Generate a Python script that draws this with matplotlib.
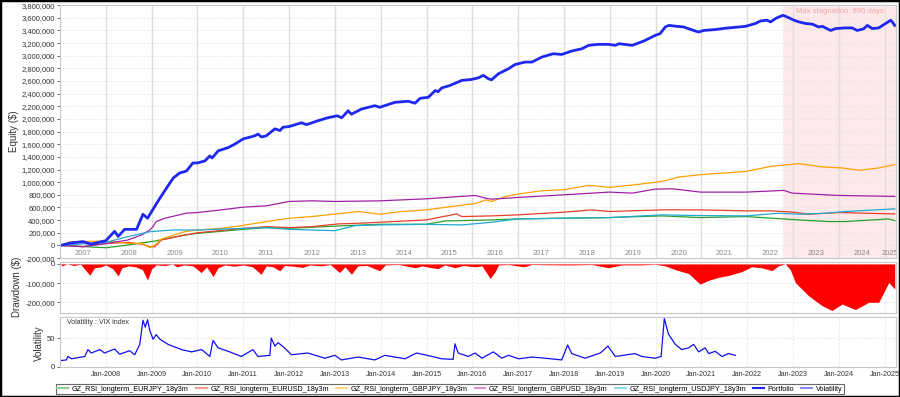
import numpy as np
import matplotlib
matplotlib.use("Agg")
import matplotlib.pyplot as plt
from matplotlib.lines import Line2D
from matplotlib.patches import Rectangle
from matplotlib.ticker import FuncFormatter

plt.rcParams["font.family"] = ["Liberation Sans", "DejaVu Sans"]

# ---- data (x = decimal year) ----
port_x = [2007.01, 2007.25, 2007.50, 2007.68, 2007.85, 2008.0, 2008.19, 2008.27, 2008.41, 2008.67,
          2008.81, 2008.91, 2009.03, 2009.18, 2009.28, 2009.47, 2009.61, 2009.76, 2009.90, 2010.0,
          2010.16, 2010.27, 2010.32, 2010.45, 2010.67, 2010.81, 2011.0, 2011.25, 2011.32, 2011.40,
          2011.50, 2011.69, 2011.80, 2011.87, 2012.0, 2012.27, 2012.38, 2012.63, 2012.85, 2013.05,
          2013.15, 2013.29, 2013.36, 2013.58, 2013.87, 2013.98, 2014.31, 2014.60, 2014.75, 2014.86,
          2015.04, 2015.19, 2015.25, 2015.33, 2015.51, 2015.77, 2015.98, 2016.13, 2016.24, 2016.35,
          2016.42, 2016.57, 2016.79, 2016.93, 2017.15, 2017.30, 2017.52, 2017.77, 2017.95, 2018.17,
          2018.39, 2018.54, 2018.75, 2018.97, 2019.12, 2019.20, 2019.49, 2019.74, 2020.0, 2020.10,
          2020.21, 2020.29, 2020.47, 2020.61, 2020.83, 2020.94, 2021.05, 2021.31, 2021.52, 2021.82,
          2021.96, 2022.18, 2022.29, 2022.43, 2022.51, 2022.62, 2022.78, 2022.91, 2023.02, 2023.13,
          2023.27, 2023.42, 2023.56, 2023.64, 2023.82, 2023.93, 2024.14, 2024.29, 2024.40, 2024.54,
          2024.62, 2024.73, 2024.87, 2025.02, 2025.13, 2025.16, 2025.22]
port_y = [0, 40000, 60000, 20000, 50000, 75000, 222000, 143000, 254000, 254000,
          493000, 430000, 572000, 747000, 858000, 1065000, 1145000, 1177000, 1304000, 1304000,
          1336000, 1415000, 1383000, 1495000, 1547000, 1600000, 1685000, 1733000, 1760000, 1715000,
          1733000, 1844000, 1817000, 1870000, 1880000, 1940000, 1910000, 1972000, 2020000, 2050000,
          2020000, 2130000, 2075000, 2157000, 2210000, 2185000, 2263000, 2280000, 2250000, 2327000,
          2343000, 2450000, 2430000, 2490000, 2530000, 2610000, 2625000, 2650000, 2690000, 2636000,
          2620000, 2715000, 2795000, 2860000, 2900000, 2900000, 2980000, 3032000, 3020000, 3075000,
          3110000, 3165000, 3180000, 3180000, 3165000, 3190000, 3165000, 3232000, 3325000, 3350000,
          3455000, 3480000, 3465000, 3455000, 3400000, 3375000, 3400000, 3415000, 3435000, 3455000,
          3465000, 3510000, 3550000, 3562000, 3535000, 3590000, 3640000, 3600000, 3562000, 3535000,
          3510000, 3500000, 3455000, 3465000, 3400000, 3430000, 3440000, 3440000, 3400000, 3425000,
          3480000, 3430000, 3440000, 3510000, 3560000, 3540000, 3480000]

gbpusd_x = [2007.01, 2007.50, 2008.0, 2008.48, 2008.78, 2008.96, 2009.03, 2009.10, 2009.29, 2009.76,
            2010.0, 2010.52, 2011.0, 2011.51, 2012.0, 2012.49, 2013.0, 2013.98, 2014.99, 2016.06,
            2016.28, 2016.42, 2016.99, 2017.99, 2018.99, 2019.49, 2020.0, 2020.36, 2020.98, 2021.98,
            2022.80, 2022.98, 2023.98, 2025.22]
gbpusd_y = [0, -20000, 30000, 85000, 165000, 244000, 297000, 377000, 430000, 510000,
            520000, 562000, 605000, 626000, 695000, 705000, 695000, 705000, 737000, 790000,
            748000, 732000, 758000, 800000, 843000, 827000, 891000, 896000, 843000, 843000,
            870000, 827000, 790000, 775000]

gbpjpy_x = [2007.01, 2007.21, 2008.0, 2008.48, 2008.78, 2008.96, 2009.07, 2009.21, 2009.72, 2010.0,
            2010.52, 2010.96, 2011.51, 2012.0, 2012.49, 2013.03, 2013.51, 2013.98, 2014.46, 2014.99,
            2015.55, 2016.10, 2016.30, 2016.42, 2016.72, 2016.99, 2017.52, 2017.99, 2018.54, 2018.99,
            2019.56, 2020.14, 2020.51, 2020.98, 2021.52, 2021.98, 2022.54, 2022.91, 2023.13, 2023.64,
            2024.07, 2024.44, 2024.87, 2025.22]
gbpjpy_y = [0, 58000, 69000, 32000, 32000, -32000, 5000, 100000, 217000, 244000,
            270000, 313000, 377000, 430000, 456000, 498000, 536000, 493000, 536000, 562000,
            615000, 668000, 721000, 695000, 774000, 812000, 865000, 880000, 950000, 918000,
            960000, 1013000, 1082000, 1119000, 1146000, 1172000, 1252000, 1278000, 1294000, 1241000,
            1225000, 1188000, 1225000, 1278000]

eurusd_x = [2007.01, 2007.50, 2008.0, 2008.48, 2008.78, 2008.96, 2009.07, 2009.21, 2009.72, 2010.0,
            2011.0, 2011.51, 2012.0, 2012.49, 2013.07, 2013.51, 2013.98, 2014.99, 2015.66, 2015.77,
            2016.42, 2016.99, 2017.99, 2018.61, 2018.99, 2020.14, 2020.98, 2021.98, 2022.54, 2023.02,
            2023.34, 2024.0, 2025.22]
eurusd_y = [0, -20000, 30000, 48000, 21000, -21000, -21000, 85000, 164000, 200000,
            270000, 297000, 281000, 297000, 340000, 350000, 366000, 403000, 498000, 456000,
            467000, 483000, 525000, 562000, 536000, 562000, 562000, 546000, 546000, 525000,
            493000, 520000, 498000]

eurjpy_x = [2007.01, 2008.0, 2008.48, 2009.07, 2009.72, 2010.0, 2011.0, 2011.51, 2012.0, 2013.07,
            2013.98, 2014.99, 2015.41, 2016.42, 2016.99, 2017.99, 2018.99, 2020.14, 2020.98, 2021.98,
            2022.54, 2023.13, 2023.78, 2024.14, 2025.09, 2025.22]
eurjpy_y = [0, -37000, 5000, 69000, 164000, 190000, 254000, 281000, 270000, 307000,
            334000, 334000, 387000, 403000, 419000, 430000, 440000, 467000, 440000, 456000,
            430000, 403000, 377000, 377000, 419000, 392000]

usdjpy_x = [2007.01, 2008.0, 2008.48, 2008.96, 2009.47, 2010.0, 2011.0, 2011.51, 2012.0, 2013.0,
            2013.44, 2013.98, 2014.99, 2015.77, 2016.42, 2016.99, 2017.99, 2018.99, 2020.14, 2020.98,
            2021.98, 2022.69, 2023.13, 2023.71, 2024.14, 2025.09, 2025.22]
usdjpy_y = [0, 48000, 138000, 217000, 244000, 244000, 270000, 281000, 254000, 233000,
            313000, 324000, 334000, 324000, 366000, 419000, 430000, 440000, 483000, 472000,
            467000, 509000, 493000, 509000, 536000, 573000, 578000]

dd_x = [2007.0, 2007.05, 2007.15, 2007.30, 2007.45, 2007.65, 2007.75, 2007.90, 2008.0, 2008.15,
        2008.27, 2008.35, 2008.50, 2008.65, 2008.80, 2008.91, 2009.0, 2009.10, 2009.30, 2009.45,
        2009.55, 2009.70, 2009.90, 2010.08, 2010.20, 2010.34, 2010.45, 2010.60, 2010.80, 2011.0,
        2011.20, 2011.39, 2011.50, 2011.65, 2011.80, 2011.90, 2012.10, 2012.30, 2012.45, 2012.70,
        2012.90, 2013.10, 2013.22, 2013.36, 2013.50, 2013.70, 2013.98, 2014.10, 2014.40, 2014.75,
        2014.90, 2015.0, 2015.25, 2015.40, 2015.62, 2015.80, 2016.06, 2016.21, 2016.39, 2016.50,
        2016.57, 2016.79, 2017.12, 2017.30, 2017.88, 2018.24, 2018.61, 2018.97, 2019.12, 2019.26,
        2019.70, 2019.99, 2020.21, 2020.43, 2020.72, 2020.97, 2021.16, 2021.37, 2021.59, 2021.88,
        2022.10, 2022.32, 2022.54, 2022.68, 2022.83, 2022.94, 2023.05, 2023.34, 2023.63, 2023.85,
        2024.07, 2024.36, 2024.65, 2024.87, 2025.09, 2025.22]
dd_y = [0, -10000, 0, -8000, -2000, -59000, -20000, -15000, -5000, -25000,
        -63000, -20000, -10000, -15000, -30000, -84000, -25000, -5000, -8000, 0,
        -15000, -5000, -10000, -45000, -15000, -66000, -20000, -5000, -12000, -5000,
        -15000, -54000, -10000, -15000, -36000, -8000, -12000, -18000, -5000, -10000,
        -3000, -45000, -15000, -54000, -10000, -8000, -36000, -5000, -3000, -20000,
        -10000, -15000, -25000, -5000, -20000, -8000, -15000, -10000, -76000, -40000,
        -5000, -3000, -15000, -3000, -5000, -5000, -3000, -20000, -12000, -5000,
        -5000, -2000, -10000, -30000, -50000, -105000, -85000, -70000, -60000, -40000,
        -15000, -20000, -35000, -10000, 0, -30000, -97000, -166000, -217000, -243000,
        -209000, -238000, -200000, -200000, -97000, -131000]

vix_x = [2007.03, 2007.14, 2007.17, 2007.25, 2007.54, 2007.61, 2007.68, 2007.87, 2007.97, 2008.19,
         2008.30, 2008.52, 2008.63, 2008.74, 2008.81, 2008.86, 2008.91, 2008.96, 2009.03, 2009.10,
         2009.18, 2009.36, 2009.65, 2009.87, 2010.09, 2010.27, 2010.34, 2010.45, 2010.67, 2010.96,
         2011.21, 2011.32, 2011.58, 2011.61, 2011.69, 2011.76, 2011.90, 2012.05, 2012.41, 2012.78,
         2013.00, 2013.14, 2013.51, 2013.87, 2014.09, 2014.53, 2014.78, 2014.96, 2015.33, 2015.58,
         2015.62, 2015.69, 2015.91, 2016.06, 2016.21, 2016.46, 2016.64, 2016.79, 2017.01, 2017.30,
         2017.59, 2017.95, 2018.08, 2018.17, 2018.46, 2018.79, 2018.96, 2019.12, 2019.55, 2019.70,
         2019.99, 2020.12, 2020.19, 2020.28, 2020.43, 2020.57, 2020.72, 2020.83, 2020.94, 2021.08,
         2021.16, 2021.30, 2021.45, 2021.59, 2021.74]
vix_y = [11, 12, 18, 14, 18, 30, 24, 30, 24, 31,
         22, 28, 21, 39, 81, 69, 82, 63, 48, 56,
         48, 39, 30, 26, 30, 18, 46, 33, 27, 18,
         30, 18, 20, 50, 36, 42, 33, 21, 24, 15,
         20, 12, 17, 12, 20, 14, 24, 21, 14, 13,
         40, 24, 18, 24, 15, 26, 15, 20, 14, 17,
         15, 12, 38, 23, 15, 24, 36, 18, 23, 18,
         15, 18, 84, 57, 39, 30, 33, 39, 26, 33,
         23, 27, 18, 23, 20]

names = ["GZ_RSI_longterm_EURJPY_18y3m", "GZ_RSI_longterm_EURUSD_18y3m",
         "GZ_RSI_longterm_GBPJPY_18y3m", "GZ_RSI_longterm_GBPUSD_18y3m",
         "GZ_RSI_longterm_USDJPY_18y3m", "Portfolio", "Volatility"]
years = list(range(2007, 2026))
stag_start = 2022.78
stag_days = 890

c_port = "#1e28ee"
c_eurjpy = "#2ca02c"
c_eurusd = "#e8402a"
c_gbpjpy = "#ffa000"
c_gbpusd = "#a020a8"
c_usdjpy = "#22aad4"

x0, x1 = 2007.0, 2025.25

fig = plt.figure(figsize=(9, 3.97), dpi=100)
ax1 = fig.add_axes([0.0667, 0.350, 0.929, 0.637])
ax2 = fig.add_axes([0.0667, 0.212, 0.929, 0.128])
ax3 = fig.add_axes([0.0667, 0.076, 0.929, 0.126])

for ax in (ax1, ax2, ax3):
    ax.set_xlim(x0, x1)
    ax.set_xticks(years[1:])
    for s in ax.spines.values():
        s.set_color("#c8c8c8")
    ax.tick_params(labelsize=5.5, colors="#333333", length=2, width=0.5, pad=1.5)
    ax.tick_params(axis="x", length=0)

# equity
ax1.axvspan(stag_start, x1, color="#fde9e9", zorder=0)
ax1.grid(axis="x", color="#dedede", lw=1.0, ls="-")
ax1.grid(axis="y", color="#e2e2e2", lw=0.6, ls=(0, (2, 2)))
ax1.set_axisbelow(True)
ax1.plot(eurjpy_x, eurjpy_y, color=c_eurjpy, lw=0.9)
ax1.plot(eurusd_x, eurusd_y, color=c_eurusd, lw=0.9)
ax1.plot(gbpjpy_x, gbpjpy_y, color=c_gbpjpy, lw=0.9)
ax1.plot(gbpusd_x, gbpusd_y, color=c_gbpusd, lw=0.9)
ax1.plot(usdjpy_x, usdjpy_y, color=c_usdjpy, lw=0.9)
ax1.plot(port_x, port_y, color=c_port, lw=2.0)
ax1.set_ylim(-200000, 3800000)
ax1.set_yticks(np.arange(-200000, 3800001, 200000))
ax1.yaxis.set_major_formatter(FuncFormatter(lambda v, p: f"{int(v):,}"))
ax1.set_xticklabels([])
for y in years:
    xc = (y + min(y + 1, x1)) / 2
    ax1.text(xc, -130000, str(y), ha="center", va="center", fontsize=5.5, color="#8a8a8a", clip_on=True)
ax1.text((stag_start + x1) / 2, 3700000, f"Max stagnation: {stag_days} days",
         ha="center", va="center", fontsize=5.5, color="#f2a5a5")

# drawdown
ax2.fill_between(dd_x, dd_y, 0, color="#ff0000", lw=0, zorder=2)
ax2.grid(True, color="#e0e0e0", lw=0.6, ls=(0, (2, 2)))
ax2.set_ylim(-255000, 10000)
ax2.set_yticks([0, -100000, -200000])
ax2.yaxis.set_major_formatter(FuncFormatter(lambda v, p: f"{int(v):,}"))
ax2.set_xticklabels([])

# volatility
ax3.plot(vix_x, vix_y, color="#1010f0", lw=0.9)
ax3.grid(True, color="#e0e0e0", lw=0.6, ls=(0, (2, 2)))
ax3.set_ylim(0, 87)
ax3.set_yticks([0, 50])
ax3.set_xticklabels([f"Jan-{y}" for y in years[1:]], fontsize=5.2)
ax3.tick_params(axis="x", pad=3)
ax3.text(0.008, 0.88, "Volatility : VIX index", transform=ax3.transAxes, fontsize=5, color="#333333", va="center")

fig.text(0.016, 0.67, "Equity ($)", rotation=90, ha="center", va="center", fontsize=7, color="#333333")
fig.text(0.019, 0.277, "Drawdown ($)", rotation=90, ha="center", va="center", fontsize=7, color="#333333")
fig.text(0.043, 0.136, "Volatility", rotation=90, ha="center", va="center", fontsize=7, color="#333333")

light = ["#8fd08f", "#f0a090", "#ffd58a", "#d890d8", "#90d8ec", c_port, "#8c8cf5"]
handles = [Line2D([0], [0], color=c, lw=1.5) for c in light]
leg = fig.legend(handles, names, loc="center", bbox_to_anchor=(0.5, 0.02), ncol=7, fontsize=5.2,
                 frameon=True, fancybox=False, handlelength=1.5, handletextpad=0.5, columnspacing=1.0,
                 borderpad=0.25)
leg.get_frame().set_edgecolor("#444444")
leg.get_frame().set_linewidth(0.8)

fig.patches.append(Rectangle((0, 0), 1, 1, transform=fig.transFigure, fill=False,
                             edgecolor="black", lw=2.5))

fig.savefig("out.png", dpi=100)
